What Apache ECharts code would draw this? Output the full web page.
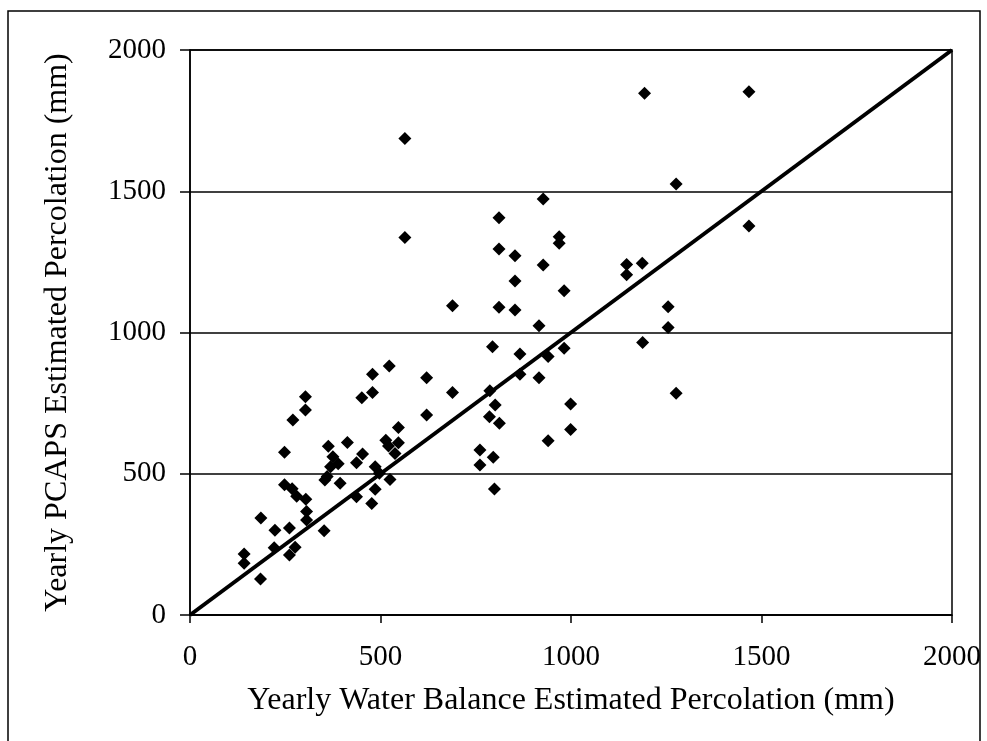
<!DOCTYPE html>
<html>
<head>
<meta charset="utf-8">
<script src="https://cdn.jsdelivr.net/npm/echarts@6/dist/echarts.min.js"></script>
<style>
html,body{margin:0;padding:0;background:#fff;}
#chart{width:987px;height:741px;}
</style>
</head>
<body>
<div id="chart"></div>
<script>
// Yearly Water Balance estimated percolation (mm)
const waterBalance = [142,142,185,186,221,223,261,261,276,248,268,280,304,306,306,352,248,270,303,303,
  363,413,375,389,369,354,360,394,453,437,437,477,486,486,497,525,547,514,547,521,538,451,479,479,523,
  621,621,564,564,689,689,761,761,796,799,786,812,801,787,794,811,811,811,853,853,853,866,866,916,916,
  927,927,940,940,969,969,982,982,999,999,1146,1146,1187,1188,1193,1255,1255,1276,1276,1467,1467];
// Yearly PCAPS estimated percolation (mm)
const pcaps = [216,183,127,343,238,300,308,212,240,461,447,420,410,366,336,298,576,690,773,726,
  597,611,560,535,525,478,490,466,570,539,419,395,445,525,502,480,664,619,610,598,572,769,788,852,881,
  840,708,1687,1336,1095,788,584,531,558,446,702,679,743,794,950,1406,1296,1089,1272,1182,1080,924,852,1024,840,
  1473,1239,915,617,1339,1316,1148,944,747,657,1241,1204,1245,965,1847,1091,1018,1526,785,1852,1377];
// 1:1 reference line end points
const oneToOneLine = [[0,0],[2000,2000]];
const tickValues = [0,500,1000,1500,2000];
const xTitle = 'Yearly Water Balance Estimated Percolation (mm)';
const yTitle = 'Yearly PCAPS Estimated Percolation (mm)';

const points = waterBalance.map((x,i)=>[x,pcaps[i]]);
const font = '"Liberation Serif","Times New Roman",serif';
const fmt = v => String(v);

const chart = echarts.init(document.getElementById('chart'));
chart.setOption({
  backgroundColor:'#fff',
  animation:false,
  grid:{left:190,top:50,right:35,bottom:126,show:true,borderColor:'#000',borderWidth:1.5,backgroundColor:'transparent'},
  graphic:[{type:'rect',shape:{x:8,y:11,width:972,height:740},style:{fill:'none',stroke:'#000',lineWidth:1.5},silent:true}],
  xAxis:{type:'value',min:tickValues[0],max:tickValues[tickValues.length-1],interval:500,
    name:xTitle,nameLocation:'middle',nameGap:70,
    nameTextStyle:{fontFamily:font,fontSize:32,color:'#000'},
    axisLine:{onZero:false,lineStyle:{color:'#000',width:1.5}},
    axisTick:{show:true,length:8,lineStyle:{color:'#000',width:1.5}},
    axisLabel:{fontFamily:font,fontSize:29,color:'#000',margin:28,formatter:fmt},
    splitLine:{show:false}},
  yAxis:{type:'value',min:tickValues[0],max:tickValues[tickValues.length-1],interval:500,
    name:yTitle,nameLocation:'middle',nameGap:116,
    nameTextStyle:{fontFamily:font,fontSize:32,color:'#000'},
    axisLine:{onZero:false,lineStyle:{color:'#000',width:1.5}},
    axisTick:{show:true,length:10,lineStyle:{color:'#000',width:1.5}},
    axisLabel:{fontFamily:font,fontSize:29,color:'#000',margin:24,formatter:fmt},
    splitLine:{show:true,lineStyle:{color:'#000',width:1.5}}},
  series:[
    {type:'line',data:oneToOneLine,symbol:'none',lineStyle:{color:'#000',width:4},z:3,silent:true},
    {type:'scatter',data:points,symbol:'diamond',symbolSize:13,itemStyle:{color:'#000',opacity:1},z:4}
  ]
});
</script>
</body>
</html>
